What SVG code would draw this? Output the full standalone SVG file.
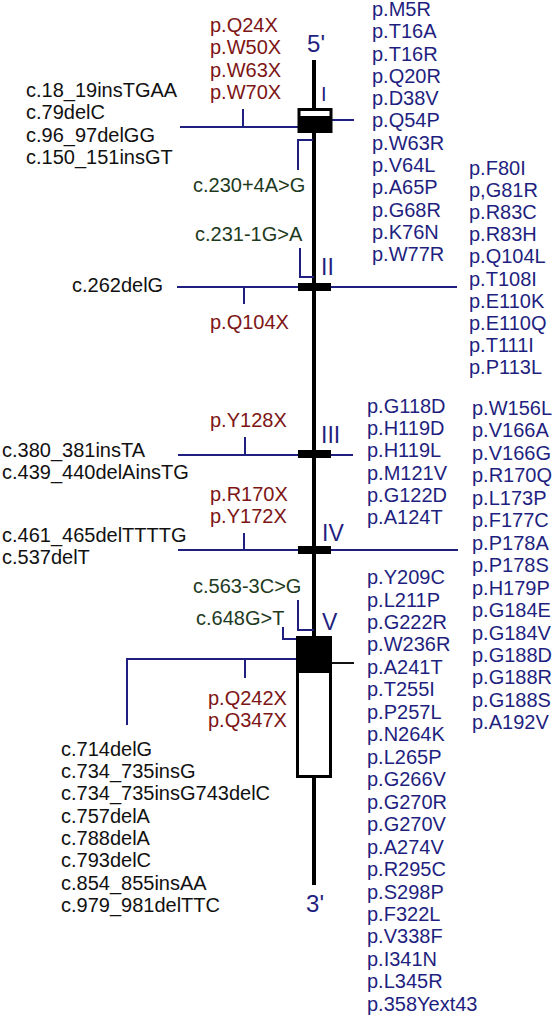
<svg xmlns="http://www.w3.org/2000/svg" width="555" height="1020" viewBox="0 0 555 1020">
<style>
text{font-family:"Liberation Sans",Arial,sans-serif;font-size:20px}
.b{fill:#1f1f7f}
.r{fill:#7d1515}
.g{fill:#1e3a1e}
.k{fill:#111}
.n{fill:#1f1f7f;font-size:23px}
.end{font-size:24px;fill:#1f1f7f}
.c{stroke:#1f1f7f;stroke-width:2;fill:none}
.ck{stroke:#111;stroke-width:2;fill:none}
</style>
<rect width="555" height="1020" fill="#fff"/>
<g id="gene">
<line x1="314" y1="60" x2="314" y2="885" stroke="#000" stroke-width="4"/>
<text class="end" x="316" y="52" text-anchor="middle">5'</text>
<text class="end" x="315" y="912" text-anchor="middle">3'</text>
</g>
<g id="connectors">
<path class="c" d="M180 127H298M243 127V109M332 120H354"/>
<path class="c" d="M313 140H298V170"/>
<path class="c" d="M300 248V277H314"/>
<path class="c" d="M177 287H298M244 287V304M331 287H457"/>
<path class="c" d="M178 455H298M245 455V437M331 455H353"/>
<path class="c" d="M178 550H298M244 550V533M331 550H458"/>
<path class="c" d="M298 600V630H314"/>
<path class="c" d="M283 627V639H297"/>
<path class="c" d="M127 725V659H296M245 659V678"/>
<path class="ck" d="M331 663H354"/>
</g>
<g id="exon1">
<rect x="299" y="109.5" width="32" height="22" fill="#fff" stroke="#000" stroke-width="3"/>
<rect x="299" y="116" width="32" height="16" fill="#000"/>
<text class="b" x="321" y="101">I</text>
</g>
<g id="exon2">
<rect x="298" y="283" width="33" height="8" fill="#000"/>
<text class="n" x="321" y="275">II</text>
</g>
<g id="exon3">
<rect x="298" y="450" width="33" height="8" fill="#000"/>
<text class="n" x="321" y="443">III</text>
</g>
<g id="exon4">
<rect x="298" y="546" width="33" height="8" fill="#000"/>
<text class="n" x="322" y="541">IV</text>
</g>
<g id="exon5">
<rect x="297.5" y="637.5" width="33" height="139" fill="#fff" stroke="#000" stroke-width="3"/>
<rect x="297.5" y="637" width="33" height="36" fill="#000"/>
<text class="n" x="322" y="630">V</text>
</g>
<g id="labels-exon1">
<text class="r" x="210"><tspan x="210" y="32">p.Q24X</tspan><tspan x="210" y="54">p.W50X</tspan><tspan x="210" y="77">p.W63X</tspan><tspan x="210" y="99">p.W70X</tspan></text>
<text class="k"><tspan x="26" y="97">c.18_19insTGAA</tspan><tspan x="26" y="119">c.79delC</tspan><tspan x="26" y="142">c.96_97delGG</tspan><tspan x="26" y="164">c.150_151insGT</tspan></text>
<text class="g" x="193" y="192">c.230+4A&gt;G</text>
<text class="b"><tspan x="372" y="16">p.M5R</tspan><tspan x="372" y="38">p.T16A</tspan><tspan x="372" y="61">p.T16R</tspan><tspan x="372" y="83">p.Q20R</tspan><tspan x="372" y="105">p.D38V</tspan><tspan x="372" y="127">p.Q54P</tspan><tspan x="372" y="150">p.W63R</tspan><tspan x="372" y="172">p.V64L</tspan><tspan x="372" y="194">p.A65P</tspan><tspan x="372" y="217">p.G68R</tspan><tspan x="372" y="239">p.K76N</tspan><tspan x="372" y="261">p.W77R</tspan></text>
</g>
<g id="labels-exon2">
<text class="g" x="195" y="241">c.231-1G&gt;A</text>
<text class="k" x="72" y="292">c.262delG</text>
<text class="r" x="210" y="329">p.Q104X</text>
<text class="b"><tspan x="469" y="175">p.F80I</tspan><tspan x="469" y="197">p,G81R</tspan><tspan x="469" y="219">p.R83C</tspan><tspan x="469" y="241">p.R83H</tspan><tspan x="469" y="263">p.Q104L</tspan><tspan x="469" y="286">p.T108I</tspan><tspan x="469" y="308">p.E110K</tspan><tspan x="469" y="330">p.E110Q</tspan><tspan x="469" y="352">p.T111I</tspan><tspan x="469" y="374">p.P113L</tspan></text>
</g>
<g id="labels-exon3">
<text class="r" x="210" y="427">p.Y128X</text>
<text class="k"><tspan x="2" y="457">c.380_381insTA</tspan><tspan x="2" y="479">c.439_440delAinsTG</tspan></text>
<text class="b"><tspan x="367" y="413">p.G118D</tspan><tspan x="367" y="435">p.H119D</tspan><tspan x="367" y="457">p.H119L</tspan><tspan x="367" y="480">p.M121V</tspan><tspan x="367" y="502">p.G122D</tspan><tspan x="367" y="524">p.A124T</tspan></text>
</g>
<g id="labels-exon4">
<text class="r"><tspan x="210" y="501">p.R170X</tspan><tspan x="210" y="523">p.Y172X</tspan></text>
<text class="k"><tspan x="2" y="542">c.461_465delTTTTG</tspan><tspan x="2" y="564">c.537delT</tspan></text>
<text class="b"><tspan x="472" y="415">p.W156L</tspan><tspan x="472" y="437">p.V166A</tspan><tspan x="472" y="460">p.V166G</tspan><tspan x="472" y="482">p.R170Q</tspan><tspan x="472" y="505">p.L173P</tspan><tspan x="472" y="527">p.F177C</tspan><tspan x="472" y="550">p.P178A</tspan><tspan x="472" y="572">p.P178S</tspan><tspan x="472" y="595">p.H179P</tspan><tspan x="472" y="617">p.G184E</tspan><tspan x="472" y="640">p.G184V</tspan><tspan x="472" y="662">p.G188D</tspan><tspan x="472" y="684">p.G188R</tspan><tspan x="472" y="707">p.G188S</tspan><tspan x="472" y="729">p.A192V</tspan></text>
</g>
<g id="labels-exon5">
<text class="g" x="193" y="593">c.563-3C&gt;G</text>
<text class="g" x="196" y="625">c.648G&gt;T</text>
<text class="r"><tspan x="208" y="705">p.Q242X</tspan><tspan x="208" y="727">p.Q347X</tspan></text>
<text class="k"><tspan x="61" y="756">c.714delG</tspan><tspan x="61" y="778">c.734_735insG</tspan><tspan x="61" y="800">c.734_735insG743delC</tspan><tspan x="61" y="823">c.757delA</tspan><tspan x="61" y="845">c.788delA</tspan><tspan x="61" y="867">c.793delC</tspan><tspan x="61" y="890">c.854_855insAA</tspan><tspan x="61" y="912">c.979_981delTTC</tspan></text>
<text class="b"><tspan x="367" y="584">p.Y209C</tspan><tspan x="367" y="607">p.L211P</tspan><tspan x="367" y="629">p.G222R</tspan><tspan x="367" y="651">p.W236R</tspan><tspan x="367" y="674">p.A241T</tspan><tspan x="367" y="696">p.T255I</tspan><tspan x="367" y="719">p.P257L</tspan><tspan x="367" y="741">p.N264K</tspan><tspan x="367" y="764">p.L265P</tspan><tspan x="367" y="786">p.G266V</tspan><tspan x="367" y="809">p.G270R</tspan><tspan x="367" y="831">p.G270V</tspan><tspan x="367" y="854">p.A274V</tspan><tspan x="367" y="876">p.R295C</tspan><tspan x="367" y="899">p.S298P</tspan><tspan x="367" y="921">p.F322L</tspan><tspan x="367" y="943">p.V338F</tspan><tspan x="367" y="966">p.I341N</tspan><tspan x="367" y="988">p.L345R</tspan><tspan x="367" y="1011">p.358Yext43</tspan></text>
</g>
</svg>
